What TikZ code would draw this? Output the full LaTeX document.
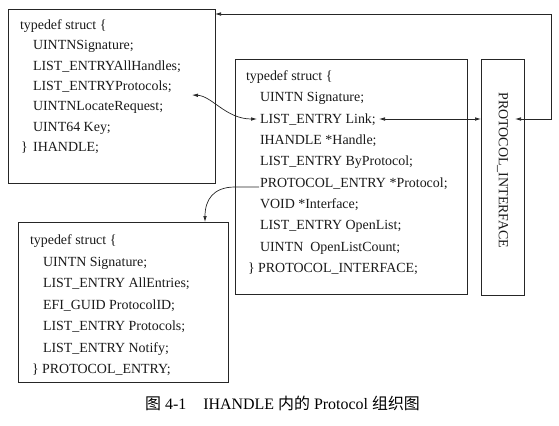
\documentclass[tikz,border=0pt]{standalone}
\usepackage{fontspec}
\setmainfont{Liberation Serif}
\newfontfamily\cjk{Noto Sans CJK SC}
\usetikzlibrary{arrows.meta}
\tikzset{
  box/.style={draw=black!85, line width=0.7bp, inner sep=0pt, outer sep=0pt, anchor=north west},
  txt/.style={anchor=base west, inner sep=0pt, outer sep=0pt, font=\fontsize{14}{16}\selectfont, text=black!90},
  conn/.style={draw=black!85, line width=0.7bp, {Latex[length=6bp,width=3.6bp]}-{Latex[length=6bp,width=3.6bp]}},
  conn1/.style={draw=black!85, line width=0.7bp, -{Latex[length=6bp,width=3.6bp]}}
}
\begin{document}
\begin{tikzpicture}[x=1bp,y=-1bp]
\useasboundingbox (0,0) rectangle (559,425);
% boxes
\node[box, minimum width=207bp, minimum height=174bp] (ih) at (8,9) {};
\node[box, minimum width=232bp, minimum height=235bp] (pi) at (235,59) {};
\node[box, minimum width=210bp, minimum height=160bp] (pe) at (18,222) {};
\node[box, minimum width=43bp, minimum height=236bp] (pif) at (481,59) {};
\node[rotate=-90, inner sep=0pt, font=\fontsize{14}{16}\selectfont, text=black!90] (piftxt) at (502.5,170.5) {PROTOCOL\_INTERFACE};
% IHANDLE
\node[txt] (a1) at (20,29.6) {typedef struct \{};
\node[txt] (a2) at (33,49.9) {UINTNSignature;};
\node[txt] (a3) at (33,70.2) {LIST\_ENTRYAllHandles;};
\node[txt] (a4) at (33,90.5) {LIST\_ENTRYProtocols;};
\node[txt] (a5) at (33,110.8) {UINTNLocateRequest;};
\node[txt] (a6) at (33,131.1) {UINT64 Key;};
\node[txt] (a7) at (21,151.4) {\}\hspace{5.5bp}IHANDLE;};
% PROTOCOL_INTERFACE
\node[txt] (b1) at (246,80.6) {typedef struct \{};
\node[txt] (b2) at (260,101.9) {UINTN Signature;};
\node[txt] (b3) at (260,123.2) {LIST\_ENTRY Link;};
\node[txt] (b4) at (260,144.5) {IHANDLE *Handle;};
\node[txt] (b5) at (260,165.8) {LIST\_ENTRY ByProtocol;};
\node[txt] (b6) at (260,187.1) {PROTOCOL\_ENTRY *Protocol;};
\node[txt] (b7) at (260,208.4) {VOID *Interface;};
\node[txt] (b8) at (260,229.7) {LIST\_ENTRY OpenList;};
\node[txt] (b9) at (260,251.0) {UINTN\ \ OpenListCount;};
\node[txt] (b10) at (248,272.3) {\} PROTOCOL\_INTERFACE;};
% PROTOCOL_ENTRY
\node[txt] (c1) at (30,244.6) {typedef struct \{};
\node[txt] (c2) at (43,266.1) {UINTN Signature;};
\node[txt] (c3) at (43,287.6) {LIST\_ENTRY AllEntries;};
\node[txt] (c4) at (43,309.1) {EFI\_GUID ProtocolID;};
\node[txt] (c5) at (43,330.6) {LIST\_ENTRY Protocols;};
\node[txt] (c6) at (43,352.1) {LIST\_ENTRY Notify;};
\node[txt] (c7) at (32,373.6) {\} PROTOCOL\_ENTRY;};
% caption
\node[anchor=base west, inner sep=0pt, font=\fontsize{16}{18}\selectfont] (cap) at (145,409)
  {{\cjk 图} 4-1\hspace{17bp}IHANDLE {\cjk 内的} Protocol {\cjk 组织图}};
% connector endpoints
\coordinate (ytop) at (0,14);
\coordinate (loopin) at (515,119);
\coordinate (loopc) at (551,119);
\coordinate (linkend) at (379,119);
\coordinate (protoend) at (192,95);
\coordinate (linkstart) at (257,119);
\coordinate (pestart) at (259,187);
\coordinate (pebend) at (235,187);
\coordinate (pein) at (205,222);
% connectors
\draw[conn] (loopin) -- (loopc) |- (ih.east |- ytop);
\draw[conn] (linkend) -- (pif.west |- linkend);
\draw[conn] (protoend) .. controls (212,96) and (226,119) .. (linkstart);
\draw[conn1] (pestart) -- (pebend) .. controls (213,187) and (205,200) .. (pe.north -| pein);
\end{tikzpicture}
\end{document}
